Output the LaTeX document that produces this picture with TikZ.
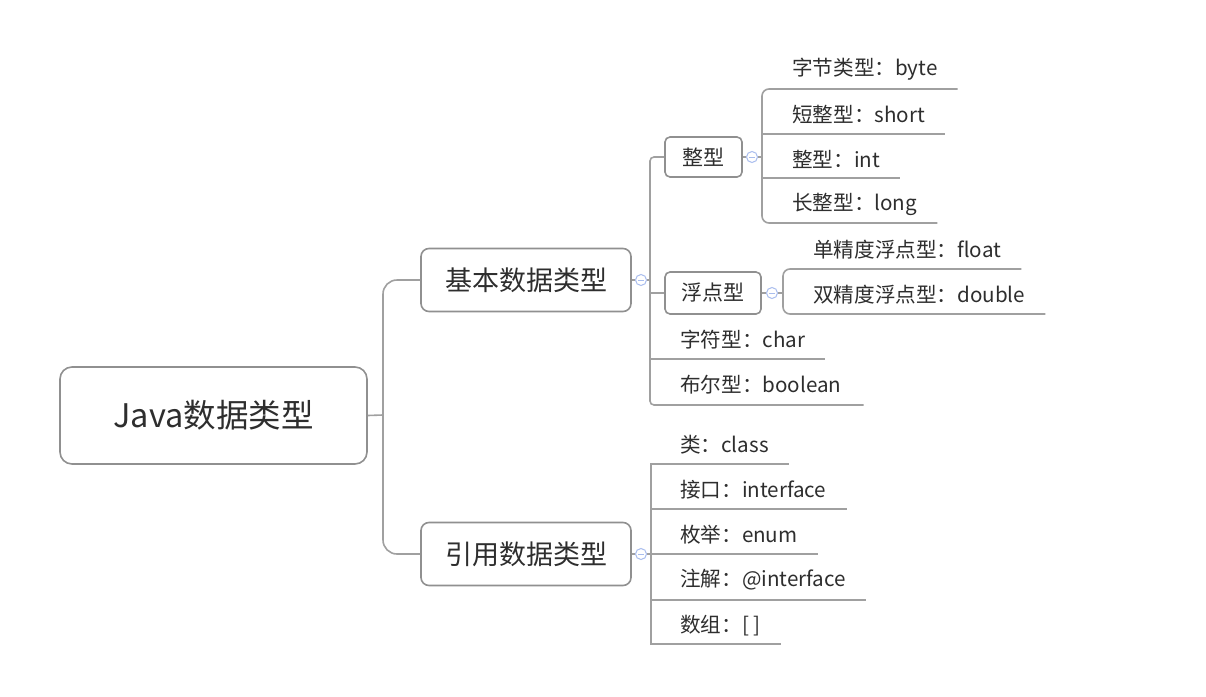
\documentclass[tikz,border=0pt]{standalone}
\usepackage{fontspec}
\setmainfont{Noto Sans CJK SC}
\usetikzlibrary{calc}
\definecolor{txt}{HTML}{2E2E2E}
\definecolor{ln}{HTML}{A0A0A0}
\definecolor{bd}{HTML}{909090}
\definecolor{cb}{HTML}{A9BDEE}
\tikzset{
  topic/.style={draw=bd, line width=1.6pt, fill=white, text=txt, inner sep=0pt, align=center},
  leaf/.style={anchor=west, text=txt, inner sep=0pt, font=\fontsize{20.6}{24}\selectfont},
  conn/.style={draw=ln, line width=1.6pt},
  fold/.style={circle, draw=cb, line width=1pt, fill=white, minimum size=11pt, inner sep=0pt,
    path picture={\draw[cb, line width=0.9pt] ([xshift=-2.8pt]path picture bounding box.center) -- ([xshift=2.8pt]path picture bounding box.center);}},
}
\begin{document}
\begin{tikzpicture}[x=1pt,y=-1pt]
\useasboundingbox (0,0) rectangle (1206,696);
\fill[white] (0,0) rectangle (1206,696);

% topics
\node[topic, rounded corners=12pt, minimum width=307pt, minimum height=97pt, font=\fontsize{32.5}{38}\selectfont] (root) at (213.5,415.5) {Java数据类型};
\node[topic, rounded corners=8pt, minimum width=210pt, minimum height=63pt, font=\fontsize{27}{32}\selectfont] (basic) at (526,280) {基本数据类型};
\node[topic, rounded corners=8pt, minimum width=210pt, minimum height=63pt, font=\fontsize{27}{32}\selectfont] (ref) at (526,554) {引用数据类型};
\node[topic, rounded corners=5pt, minimum width=77pt, minimum height=40pt, font=\fontsize{21}{25}\selectfont] (intbox) at (703.5,157) {整型};
\node[topic, rounded corners=5pt, minimum width=96pt, minimum height=42pt, font=\fontsize{21}{25}\selectfont] (floatbox) at (713,293) {浮点型};

% fold markers
\node[fold] (c1) at (641,280) {};
\node[fold] (c2) at (752,157) {};
\node[fold] (c3) at (772,293) {};
\node[fold] (c4) at (641,554) {};

% leaves
\node[leaf] (nbyte) at (792,69) {字节类型：byte};
\node[leaf] (nshort) at (792,114) {短整型：short};
\node[leaf] (nint) at (792,159) {整型：int};
\node[leaf] (nlong) at (792,204) {长整型：long};
\node[leaf] (nfloat) at (813,250) {单精度浮点型：float};
\node[leaf] (ndouble) at (813,295) {双精度浮点型：double};
\node[leaf] (nchar) at (680,340) {字符型：char};
\node[leaf] (nbool) at (680,385) {布尔型：boolean};
\node[leaf] (nclass) at (680,445) {类：class};
\node[leaf] (nintf) at (680,490) {接口：interface};
\node[leaf] (nenum) at (680,535) {枚举：enum};
\node[leaf] (nanno) at (680,580) {注解：@interface};
\node[leaf] (narr) at (680,626) {数组：[ ]};

% junction coordinates
\coordinate (j0) at (383,415);
\coordinate (b0) at (650,280);
\coordinate (uchar) at (650,359);
\coordinate (ubool) at (650,405);
\coordinate (i0) at (762,157);
\coordinate (ubyte) at (762,89);
\coordinate (ushort) at (762,134);
\coordinate (uint) at (762,178);
\coordinate (ulong) at (762,223);
\coordinate (f0) at (783,293);
\coordinate (ufloat) at (783,269);
\coordinate (udouble) at (783,314);
\coordinate (r0) at (651,554);
\coordinate (uclass) at (651,464);
\coordinate (uintf) at (651,509);
\coordinate (uenum) at (651,554);
\coordinate (uanno) at (651,600);
\coordinate (uarr) at (651,644);

% root
\draw[conn] (root.east) -- (j0);
\draw[conn, rounded corners=14pt] (basic.west) -| (j0) |- (ref.west);

% basic subtree
\draw[conn] (basic.east) -- (c1);
\draw[conn] (c1) -- (b0);
\draw[conn, rounded corners=4pt] (intbox.west) -- (intbox.west -| b0) -- (ubool) -- ($(ubool -| nbool.east)+(22,0)$);
\draw[conn] (b0 |- floatbox.west) -- (floatbox.west);
\draw[conn] (uchar) -- ($(uchar -| nchar.east)+(20,0)$);

% int subtree
\draw[conn] (intbox.east) -- (c2);
\draw[conn] (c2) -- (i0);
\draw[conn, rounded corners=7pt] ($(ubyte -| nbyte.east)+(20,0)$) -- (ubyte) -- (ulong) -- ($(ulong -| nlong.east)+(20,0)$);
\draw[conn] (ushort) -- ($(ushort -| nshort.east)+(20,0)$);
\draw[conn] (uint) -- ($(uint -| nint.east)+(20,0)$);

% float subtree
\draw[conn] (floatbox.east) -- (c3);
\draw[conn] (c3) -- (f0);
\draw[conn, rounded corners=7pt] ($(ufloat -| nfloat.east)+(20,0)$) -- (ufloat) -- (udouble) -- ($(udouble -| ndouble.east)+(20,0)$);

% reference subtree
\draw[conn] (ref.east) -- (c4);
\draw[conn] (c4) -- (r0);
\draw[conn] ($(uclass -| nclass.east)+(20,0)$) -- (uclass) -- (uarr) -- ($(uarr -| narr.east)+(20,0)$);
\draw[conn] (uintf) -- ($(uintf -| nintf.east)+(20,0)$);
\draw[conn] (uenum) -- ($(uenum -| nenum.east)+(20,0)$);
\draw[conn] (uanno) -- ($(uanno -| nanno.east)+(20,0)$);
\end{tikzpicture}
\end{document}
